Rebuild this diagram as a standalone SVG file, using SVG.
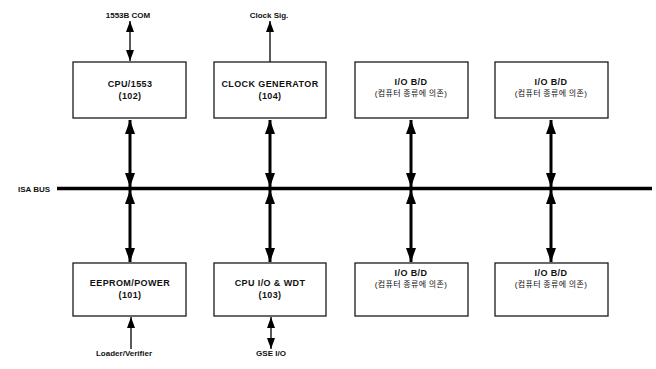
<svg xmlns="http://www.w3.org/2000/svg" width="656" height="369" viewBox="0 0 656 369">
<style>
.box{fill:#fff;stroke:#1a1a1a;stroke-width:1.3}
.t{font-family:"Liberation Sans",Arial,sans-serif;font-weight:bold;font-size:9px;fill:#111;text-anchor:middle;letter-spacing:0.4px}
.k{font-family:"Liberation Sans","Noto Sans CJK KR",sans-serif;font-size:8px;fill:#111;text-anchor:middle;letter-spacing:0.3px}
.lbl{font-family:"Liberation Sans",Arial,sans-serif;font-weight:bold;font-size:8px;fill:#111;text-anchor:middle}
.thick{stroke:#000;stroke-width:3;fill:none}
.thin{stroke:#000;stroke-width:1.3;fill:none}
</style>
<defs>
<marker id="ah" viewBox="0 0 14 10" refX="14" refY="5" markerWidth="14" markerHeight="10" markerUnits="userSpaceOnUse" orient="auto-start-reverse"><path d="M0,0 L14,5 L0,10 z" fill="#000"/></marker>
<marker id="as" viewBox="0 0 11 8" refX="11" refY="4" markerWidth="11" markerHeight="8" markerUnits="userSpaceOnUse" orient="auto-start-reverse"><path d="M0,0 L11,4 L0,8 z" fill="#000"/></marker>
</defs>
<rect width="656" height="369" fill="#fff"/>
<g id="isa-bus">
<line x1="57" y1="188.5" x2="652" y2="188.5" stroke="#000" stroke-width="3.5"/>
<text class="lbl" x="34" y="192" font-size="8.6">ISA BUS</text>
</g>
<g id="connectors">
<line class="thick" x1="130" y1="120" x2="130" y2="187" marker-start="url(#ah)" marker-end="url(#ah)"/>
<line class="thick" x1="270" y1="120" x2="270" y2="187" marker-start="url(#ah)" marker-end="url(#ah)"/>
<line class="thick" x1="411" y1="120" x2="411" y2="187" marker-start="url(#ah)" marker-end="url(#ah)"/>
<line class="thick" x1="551" y1="120" x2="551" y2="187" marker-start="url(#ah)" marker-end="url(#ah)"/>
<line class="thick" x1="130" y1="190" x2="130" y2="262" marker-start="url(#ah)" marker-end="url(#ah)"/>
<line class="thick" x1="270" y1="190" x2="270" y2="262" marker-start="url(#ah)" marker-end="url(#ah)"/>
<line class="thick" x1="411" y1="190" x2="411" y2="262" marker-start="url(#ah)" marker-end="url(#ah)"/>
<line class="thick" x1="551" y1="190" x2="551" y2="262" marker-start="url(#ah)" marker-end="url(#ah)"/>
<line class="thin" x1="130" y1="21" x2="130" y2="61" marker-start="url(#as)" marker-end="url(#as)"/>
<line class="thin" x1="270" y1="62" x2="270" y2="21" marker-end="url(#as)"/>
<line class="thin" x1="131" y1="349" x2="131" y2="317" marker-end="url(#as)"/>
<line class="thin" x1="271" y1="317" x2="271" y2="349" marker-start="url(#as)" marker-end="url(#as)"/>
</g>
<g id="lbl-1553"><text class="lbl" x="128" y="18">1553B COM</text></g>
<g id="lbl-clock"><text class="lbl" x="269" y="18" font-weight="normal">Clock Sig.</text></g>
<g id="lbl-loader"><text class="lbl" x="124" y="356">Loader/Verifier</text></g>
<g id="lbl-gse"><text class="lbl" x="271" y="356">GSE I/O</text></g>
<g id="cpu1553">
<rect class="box" x="73" y="62" width="113" height="56"/>
<text class="t" x="130" y="87">CPU/1553</text>
<text class="t" x="130" y="98.5">(102)</text>
</g>
<g id="clockgen">
<rect class="box" x="214" y="62" width="112" height="56"/>
<text class="t" x="270" y="87">CLOCK GENERATOR</text>
<text class="t" x="270" y="99">(104)</text>
</g>
<g id="io-top-1">
<rect class="box" x="355" y="62" width="113" height="56"/>
<text class="t" x="411" y="85" font-weight="normal">I/O B/D</text>
<text class="k" x="411" y="96">(컴퓨터 종류에 의존)</text>
</g>
<g id="io-top-2">
<rect class="box" x="495" y="62" width="113" height="56"/>
<text class="t" x="551" y="85" font-weight="normal">I/O B/D</text>
<text class="k" x="551" y="96">(컴퓨터 종류에 의존)</text>
</g>
<g id="eeprom">
<rect class="box" x="73" y="263" width="113" height="53"/>
<text class="t" x="130" y="286">EEPROM/POWER</text>
<text class="t" x="130" y="298">(101)</text>
</g>
<g id="cpuio">
<rect class="box" x="214" y="263" width="112" height="53"/>
<text class="t" x="270" y="286">CPU I/O &amp; WDT</text>
<text class="t" x="270" y="298">(103)</text>
</g>
<g id="io-bot-1">
<rect class="box" x="355" y="263" width="113" height="53"/>
<text class="t" x="411" y="276" font-weight="normal">I/O B/D</text>
<text class="k" x="411" y="287">(컴퓨터 종류에 의존)</text>
</g>
<g id="io-bot-2">
<rect class="box" x="495" y="263" width="113" height="53"/>
<text class="t" x="551" y="276" font-weight="normal">I/O B/D</text>
<text class="k" x="551" y="287">(컴퓨터 종류에 의존)</text>
</g>
</svg>
